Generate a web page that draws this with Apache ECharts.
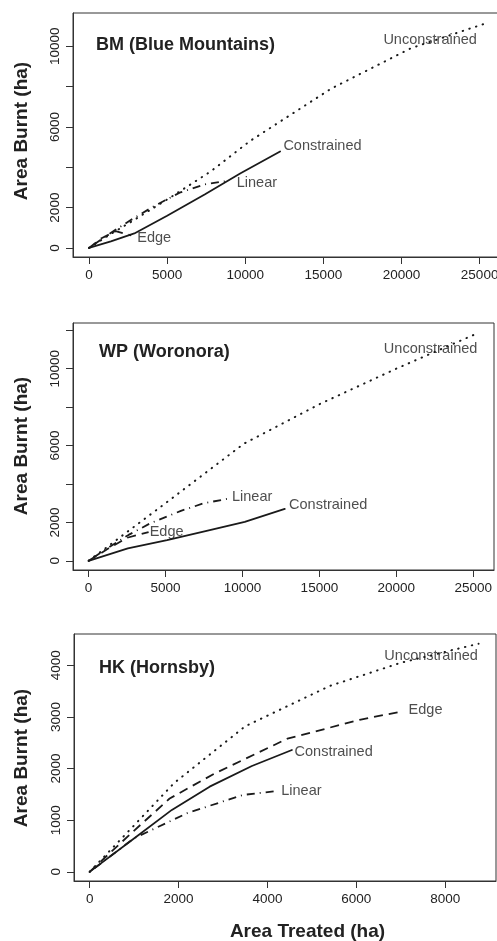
<!DOCTYPE html>
<html>
<head>
<meta charset="utf-8">
<script src="https://cdn.jsdelivr.net/npm/echarts@6/dist/echarts.min.js"></script>
<style>
html,body{margin:0;padding:0;background:#fff;}
#c{width:497px;height:941px;}
</style>
</head>
<body>
<div id="c"></div>
<script>
// ---------- Data (Area Treated, Area Burnt) ----------
const panelTitles = ['BM (Blue Mountains)', 'WP (Woronora)', 'HK (Hornsby)'];
const seriesNames = ['Unconstrained', 'Constrained', 'Linear', 'Edge'];

// BM (Blue Mountains)
const bmUnconstrained = [[0,0],[1300,650],[2600,1250],[5200,2500],[7800,3800],[10300,5300],[15500,7900],[20600,9900],[25560,11180]];
const bmConstrained   = [[0,0],[1400,330],[2900,720],[5000,1600],[7400,2650],[9700,3700],[12230,4780]];
const bmLinear        = [[0,0],[1300,700],[2600,1350],[4000,2000],[5800,2740],[7400,3150],[8900,3330]];
const bmEdge          = [[0,0],[800,480],[1700,830],[2700,620]];

// WP (Woronora)
const wpUnconstrained = [[0,0],[2500,1500],[5000,3000],[7600,4580],[10100,6100],[15000,8150],[20000,10000],[25100,11780]];
const wpConstrained   = [[0,0],[2550,650],[5100,1080],[7600,1550],[10150,2030],[12750,2700]];
const wpLinear        = [[0,0],[1300,700],[2600,1350],[4000,1950],[6000,2600],[7500,3000],[9200,3250]];
const wpEdge          = [[0,0],[1300,650],[2500,1200],[3900,1500]];

// HK (Hornsby)
const hkUnconstrained = [[0,0],[1000,900],[1900,1720],[3500,2820],[5400,3600],[7000,4050],[8750,4420]];
const hkConstrained   = [[0,0],[1050,680],[1850,1200],[2700,1650],[3650,2050],[4550,2360]];
const hkLinear        = [[0,0],[1000,650],[2200,1140],[3450,1490],[4150,1560]];
const hkEdge          = [[0,0],[900,720],[1800,1420],[2800,1900],[4450,2580],[6100,2950],[7050,3110]];

// Curve labels: [text, x, y] (text starts at the point)
const bmLabels = [['Unconstrained',18840,10308],['Constrained',12440,5062],['Linear',9455,3240],['Edge',3092,511]];
const wpLabels = [['Unconstrained',19190,11030],['Constrained',13030,2900],['Linear',9320,3300],['Edge',3970,1510]];
const hkLabels = [['Unconstrained',6630,4175],['Edge',7175,3140],['Constrained',4610,2313],['Linear',4310,1570]];

// Axis data ranges and ticks
const bmXlim = [0, 25600], bmYlim = [0, 11200];
const wpXlim = [0, 25335], wpYlim = [0, 11900];
const hkXlim = [0, 8790],  hkYlim = [0, 4430];
const bmXticks = [0,5000,10000,15000,20000,25000];
const bmYticks = [0,2000,4000,6000,8000,10000];
const bmYtickLabels = [0,2000,6000,10000];
const wpXticks = [0,5000,10000,15000,20000,25000];
const wpYticks = [0,2000,4000,6000,8000,10000,12000];
const wpYtickLabels = [0,2000,6000,10000];
const hkXticks = [0,2000,4000,6000,8000];
const hkYticks = [0,1000,2000,3000,4000];
const hkYtickLabels = [0,1000,2000,3000,4000];

const yTitle = 'Area Burnt (ha)';
const xTitle = 'Area Treated (ha)';

// ---------- Build chart ----------
const FONT = "'Liberation Sans', Arial, Helvetica, sans-serif";
const INK = '#222';
const AX = '#333';

const panels = [
  {title: panelTitles[0], data: [bmUnconstrained,bmConstrained,bmLinear,bmEdge], labels: bmLabels,
   xlim: bmXlim, ylim: bmYlim, xt: bmXticks, yt: bmYticks, ytl: bmYtickLabels,
   grid: {left:73, top:13, width:432, height:244}, titlePos:[96,45], yTitleY:131},
  {title: panelTitles[1], data: [wpUnconstrained,wpConstrained,wpLinear,wpEdge], labels: wpLabels,
   xlim: wpXlim, ylim: wpYlim, xt: wpXticks, yt: wpYticks, ytl: wpYtickLabels,
   grid: {left:73, top:323, width:421, height:247}, titlePos:[99,352], yTitleY:446},
  {title: panelTitles[2], data: [hkUnconstrained,hkConstrained,hkLinear,hkEdge], labels: hkLabels,
   xlim: hkXlim, ylim: hkYlim, xt: hkXticks, yt: hkYticks, ytl: hkYtickLabels,
   grid: {left:74, top:634, width:422, height:247}, titlePos:[99,668], yTitleY:758}
];

const styles = {
  'Unconstrained': {type:[0.5,6.5], cap:'round', width:2},
  'Constrained':   {type:'solid', cap:'round', width:1.8},
  'Linear':        {type:[1,5,8,5], cap:'butt', width:1.8},
  'Edge':          {type:[9,6], cap:'butt', width:1.8}
};

function pad(lim){ const r = lim[1]-lim[0]; return [lim[0]-0.04*r, lim[1]+0.04*r]; }
const plain = v => String(Math.round(v));

const grid = [], xAxis = [], yAxis = [], series = [], graphic = [];
panels.forEach((p, i) => {
  grid.push(Object.assign({show:true, borderColor:AX, borderWidth:1, backgroundColor:'transparent',
    containLabel:false, outerBoundsMode:'none'}, p.grid));
  const xr = pad(p.xlim), yr = pad(p.ylim);
  xAxis.push({
    type:'value', gridIndex:i, min:xr[0], max:xr[1], splitLine:{show:false},
    axisLine:{show:true, onZero:false, lineStyle:{color:AX, width:1}},
    axisTick:{show:true, inside:false, length:7, customValues:p.xt, lineStyle:{color:AX, width:1}},
    axisLabel:{show:true, customValues:p.xt, formatter:plain, margin:11, color:INK, fontFamily:FONT, fontSize:13.5, hideOverlap:false}
  });
  yAxis.push({
    type:'value', gridIndex:i, min:yr[0], max:yr[1], splitLine:{show:false},
    axisLine:{show:true, onZero:false, lineStyle:{color:AX, width:1}},
    axisTick:{show:true, inside:false, length:7, customValues:p.yt, lineStyle:{color:AX, width:1}},
    axisLabel:{show:true, customValues:p.ytl, formatter:plain, rotate:90, margin:11, color:INK, fontFamily:FONT, fontSize:13.5, hideOverlap:false}
  });
  seriesNames.forEach((nm, k) => {
    series.push({
      type:'line', name:nm, xAxisIndex:i, yAxisIndex:i, data:p.data[k],
      showSymbol:false, symbol:'none', smooth:false, silent:true,
      lineStyle:Object.assign({color:'#1a1a1a'}, styles[nm])
    });
  });
  series.push({
    type:'scatter', xAxisIndex:i, yAxisIndex:i, symbolSize:0, silent:true,
    data:p.labels.map(l => ({name:l[0], value:[l[1], l[2]]})),
    label:{show:true, position:'right', distance:0, formatter:'{b}', color:INK, fontFamily:FONT, fontSize:14.5}
  });
  graphic.push({type:'text', x:p.titlePos[0], y:p.titlePos[1],
    style:{text:p.title, fill:INK, font:'bold 18px ' + FONT, align:'left', verticalAlign:'middle'}});
  graphic.push({type:'text', x:22, y:p.yTitleY, rotation:Math.PI/2,
    style:{text:yTitle, fill:INK, font:'bold 19px ' + FONT, align:'center', verticalAlign:'middle'}});
});
graphic.push({type:'text', x:307.5, y:932,
  style:{text:xTitle, fill:INK, font:'bold 19px ' + FONT, align:'center', verticalAlign:'middle'}});

const chart = echarts.init(document.getElementById('c'), null, {renderer:'canvas'});
chart.setOption({animation:false, backgroundColor:'#fff', grid, xAxis, yAxis, series, graphic});
</script>
</body>
</html>
